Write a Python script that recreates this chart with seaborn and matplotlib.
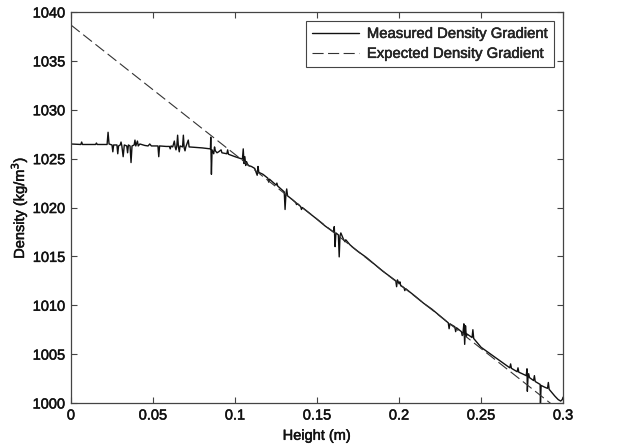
import matplotlib
matplotlib.use("Agg")
import matplotlib.pyplot as plt
import matplotlib.patheffects as pe
import seaborn as sns
import pandas as pd

# Measured density profile
measured_height = [
    0.000, 0.006, 0.0065, 0.007, 0.015, 0.0155, 0.016, 0.022, 0.0226, 0.0232,
    0.025, 0.0255, 0.026, 0.028, 0.0285, 0.029, 0.030, 0.0305, 0.031, 0.0318,
    0.0325, 0.034, 0.0345, 0.035, 0.036, 0.0366, 0.0372, 0.0385, 0.039, 0.0395,
    0.0405, 0.041, 0.042, 0.045, 0.047, 0.048, 0.049, 0.053, 0.0535, 0.054,
    0.058, 0.060, 0.0605, 0.061, 0.062, 0.063, 0.0635, 0.064, 0.0645, 0.065,
    0.0655, 0.066, 0.0665, 0.068, 0.0685, 0.069, 0.0695, 0.070, 0.0715, 0.072,
    0.080, 0.085, 0.0852, 0.0856, 0.086, 0.087, 0.0875, 0.088, 0.089, 0.090,
    0.0915, 0.092, 0.095, 0.0955, 0.096, 0.100, 0.1045, 0.105, 0.1055, 0.106,
    0.1065, 0.107, 0.108, 0.110, 0.112, 0.1135, 0.114, 0.1145, 0.117, 0.120,
    0.1205, 0.121, 0.125, 0.1255, 0.126, 0.130, 0.1305, 0.131, 0.1315, 0.132,
    0.135, 0.137, 0.1375, 0.138, 0.140, 0.1405, 0.141, 0.150, 0.155, 0.160,
    0.1605, 0.161, 0.1615, 0.163, 0.1635, 0.164, 0.1645, 0.166, 0.167, 0.1675,
    0.170, 0.172, 0.175, 0.180, 0.190, 0.198, 0.1985, 0.199, 0.200, 0.2005,
    0.201, 0.203, 0.2035, 0.204, 0.210, 0.215, 0.220, 0.225, 0.230, 0.2305,
    0.231, 0.234, 0.2345, 0.235, 0.238, 0.2385, 0.239, 0.2395, 0.240, 0.2405,
    0.241, 0.2415, 0.2445, 0.245, 0.2455, 0.250, 0.260, 0.2675, 0.268, 0.2685,
    0.270, 0.272, 0.2725, 0.273, 0.275, 0.2775, 0.278, 0.2782, 0.2786, 0.279,
    0.2795, 0.282, 0.2825, 0.283, 0.286, 0.2862, 0.2866, 0.289, 0.2905, 0.291,
    0.2915, 0.293, 0.295, 0.297, 0.2985, 0.2995, 0.300,
]
measured_density = [
    1026.5, 1026.45, 1026.7, 1026.45, 1026.45, 1026.6, 1026.45, 1026.45, 1027.7, 1026.5,
    1026.4, 1025.7, 1026.4, 1026.4, 1025.5, 1026.3, 1026.4, 1026.7, 1026.3, 1025.2,
    1026.4, 1026.3, 1025.6, 1026.4, 1026.3, 1024.6, 1026.3, 1026.4, 1026.9, 1026.3,
    1026.8, 1026.3, 1026.5, 1026.35, 1026.3, 1026.5, 1026.3, 1026.3, 1025.2, 1026.3,
    1026.25, 1026.25, 1026.0, 1026.3, 1026.2, 1026.8, 1026.2, 1025.9, 1026.3, 1027.4,
    1026.2, 1025.7, 1026.3, 1026.2, 1027.4, 1026.1, 1025.8, 1026.2, 1026.9, 1026.2,
    1026.1, 1026.0, 1027.2, 1023.4, 1025.9, 1025.5, 1026.2, 1025.8, 1025.6, 1025.7,
    1025.9, 1025.6, 1025.5, 1025.9, 1025.45, 1025.2, 1024.95, 1026.0, 1024.5, 1025.2,
    1024.3, 1024.7, 1024.3, 1024.2, 1024.0, 1023.3, 1024.2, 1023.6, 1023.4, 1023.0,
    1022.6, 1022.9, 1022.3, 1022.5, 1022.2, 1021.6, 1019.8, 1021.3, 1021.9, 1021.2,
    1020.8, 1020.5, 1020.3, 1020.4, 1020.1, 1019.8, 1020.0, 1018.8, 1018.1, 1017.5,
    1018.05, 1016.0, 1017.4, 1017.2, 1014.95, 1017.1, 1017.4, 1016.8, 1016.5, 1016.7,
    1016.2, 1015.9, 1015.5, 1014.9, 1013.5, 1012.5, 1011.9, 1012.6, 1012.2, 1012.4,
    1012.0, 1011.8, 1011.5, 1011.7, 1010.9, 1010.2, 1009.6, 1008.9, 1008.2, 1007.6,
    1008.1, 1007.8, 1007.3, 1007.7, 1007.3, 1006.9, 1007.25, 1008.1, 1006.0, 1007.9,
    1006.8, 1007.05, 1006.7, 1007.5, 1006.6, 1005.7, 1004.5, 1003.6, 1004.0, 1003.55,
    1003.4, 1003.2, 1003.6, 1003.15, 1003.0, 1002.8, 1003.5, 1001.2, 1002.6, 1003.0,
    1002.6, 1002.3, 1002.8, 1002.2, 1001.9, 1000.0, 1001.8, 1001.6, 1001.5, 1002.1,
    1001.4, 1001.1, 1000.7, 1000.35, 1000.2, 1000.35, 1000.6,
]

# Expected (linear) density gradient
expected_height = [0.0, 0.3]
expected_density = [1038.67, 998.95]

x_ticks = [0, 0.05, 0.1, 0.15, 0.2, 0.25, 0.3]
x_tick_labels = ["0", "0.05", "0.1", "0.15", "0.2", "0.25", "0.3"]
y_ticks = [1000, 1005, 1010, 1015, 1020, 1025, 1030, 1035, 1040]

sns.set_style("ticks")
plt.rcParams["font.family"] = ["Liberation Sans", "DejaVu Sans"]
plt.rcParams["xtick.direction"] = "in"
plt.rcParams["ytick.direction"] = "in"

df_m = pd.DataFrame({"h": measured_height, "rho": measured_density})
df_e = pd.DataFrame({"h": expected_height, "rho": expected_density})

fig = plt.figure(figsize=(6.19, 4.46), dpi=100)
ax = fig.add_axes([0.1147, 0.0964, 0.795, 0.8766])

sns.lineplot(data=df_m, x="h", y="rho", sort=False, estimator=None, ax=ax,
             color="#111111", linewidth=1.0, label="Measured Density Gradient")
sns.lineplot(data=df_e, x="h", y="rho", sort=False, estimator=None, ax=ax,
             color="#333333", linewidth=0.8, dashes=False,
             label="Expected Density Gradient")
ax.lines[1].set_dashes([10, 4])

ax.set_xlim(0, 0.3)
ax.set_ylim(1000, 1040)
ax.set_xticks(x_ticks)
ax.set_xticklabels(x_tick_labels)
ax.set_yticks(y_ticks)
ax.tick_params(axis="both", which="both", direction="in", top=True, right=True,
               length=4, width=0.8, labelsize=10.5, colors="#444444",
               labelcolor="#111111", pad=4)
for s in ax.spines.values():
    s.set_visible(True)
    s.set_color("#444444")
    s.set_linewidth(0.9)

ax.set_xlabel("Height (m)", fontsize=10.5, color="#111111", labelpad=4.5)
ax.set_ylabel("Density (kg/m$^3$)", fontsize=10.5, color="#111111", labelpad=2.5)

leg = ax.legend(loc="upper right", fontsize=10.7, frameon=True, fancybox=False,
                edgecolor="#444444", framealpha=1, handlelength=3.2,
                handletextpad=0.5, borderpad=0.4, labelspacing=0.4,
                borderaxespad=0.6)
leg.get_frame().set_linewidth(0.8)

# slight stroke to mimic the heavier printed text
stroke = [pe.withStroke(linewidth=0.35, foreground="#111111")]
for t in (ax.get_xticklabels() + ax.get_yticklabels() + leg.get_texts()
          + [ax.xaxis.label, ax.yaxis.label]):
    t.set_path_effects(stroke)

fig.savefig("out.png", dpi=100)
